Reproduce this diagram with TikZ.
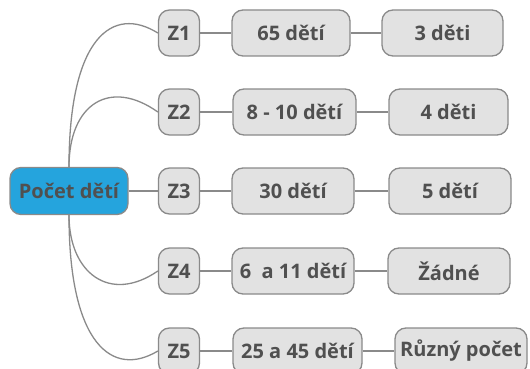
\documentclass[tikz,border=0pt]{standalone}
\usepackage{fontspec}
\setmainfont{Open Sans}
\definecolor{linec}{HTML}{8A8A8A}
\definecolor{boxfill}{HTML}{E2E2E2}
\definecolor{txt}{HTML}{505050}
\definecolor{rootfill}{HTML}{25A4DD}
\begin{document}
\begin{tikzpicture}[x=1pt,y=-1pt,
  box/.style={draw=linec,line width=1.3pt,fill=boxfill,rounded corners=11pt,
    text=txt,font=\fontsize{20}{24}\selectfont\bfseries,inner sep=0pt,minimum height=46pt},
  rootbox/.style={box,fill=rootfill,minimum width=118pt,minimum height=47pt},
  conn/.style={draw=linec,line width=1.3pt}]
\useasboundingbox (0,0) rectangle (530,369);
\node[rootbox] (root) at (69,191) {Počet dětí};
\node[box,minimum width=41pt] (z1) at (179,33) {Z1};
\node[box,minimum width=41pt] (z2) at (179,112) {Z2};
\node[box,minimum width=41pt] (z3) at (179,191) {Z3};
\node[box,minimum width=41pt] (z4) at (179,271) {Z4};
\node[box,minimum width=41pt] (z5) at (179,351) {Z5};
\node[box,minimum width=118pt] (m1) at (291,33) {65 dětí};
\node[box,minimum width=123pt] (m2) at (294.5,112) {8 - 10 dětí};
\node[box,minimum width=122pt] (m3) at (293,191) {30 dětí};
\node[box,minimum width=122pt] (m4) at (293,271) {6\ \ a 11 dětí};
\node[box,minimum width=129pt] (m5) at (297.5,351) {25 a 45 dětí};
\node[box,minimum width=121pt] (r1) at (442.5,33) {3 děti};
\node[box,minimum width=119pt] (r2) at (448.5,112) {4 děti};
\node[box,minimum width=122pt] (r3) at (450,191) {5 dětí};
\node[box,minimum width=122pt] (r4) at (449,271) {Žádné};
\node[box,minimum width=132pt] (r5) at (461,351) {Různý počet};
\draw[conn] (root.north) .. controls +(0,-130) and +(-45,-28) .. (z1.west);
\draw[conn] (root.north) .. controls +(0,-63) and +(-48,-34) .. (z2.west);
\draw[conn] (root.east) -- (z3.west);
\draw[conn] (root.south) .. controls +(0,58) and +(-48,33) .. (z4.west);
\draw[conn] (root.south) .. controls +(0,130) and +(-45,27) .. (z5.west);
\foreach \i in {1,...,5}{
  \draw[conn] (z\i.east) -- (m\i.west);
  \draw[conn] (m\i.east) -- (r\i.west);
}
\end{tikzpicture}
\end{document}
